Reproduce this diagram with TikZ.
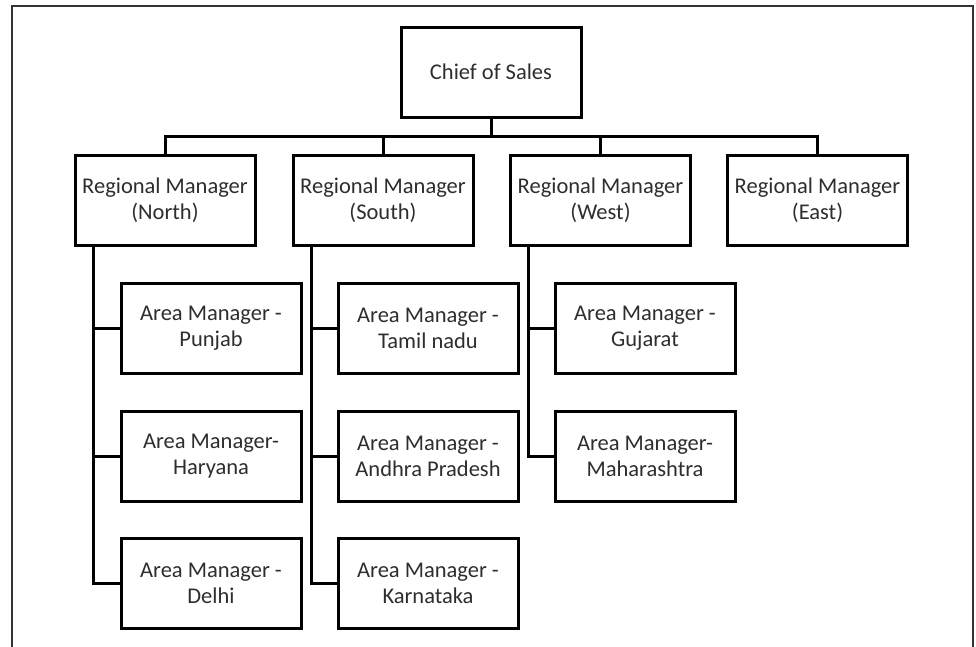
\documentclass[tikz,border=0pt]{standalone}
\usepackage{fontspec}
\setmainfont{Carlito}
\begin{document}
\begin{tikzpicture}[x=1pt,y=-1pt,
  box/.style={draw=black,line width=3pt,fill=white,minimum width=180pt,minimum height=90pt,
    inner sep=0pt,align=center,text=black!82,font=\fontsize{22.5}{26}\selectfont},
  link/.style={draw=black,line width=3pt,line join=miter}]
\useasboundingbox (0,0) rectangle (976,646);
\fill[white] (0,0) rectangle (976,646);
\draw[black!80,line width=1.5pt] (12,650) -- (12,6) -- (973,6) -- (973,650);
% nodes
\node[box] (chief) at (491,72) {Chief of Sales};
\node[box] (north) at (165,200) {Regional Manager\\(North)};
\node[box] (south) at (383,200) {Regional Manager\\(South)};
\node[box] (west) at (600.5,200) {Regional Manager\\(West)};
\node[box] (east) at (817.5,200) {Regional Manager\\(East)};
\node[box] (punjab) at (211,328) {Area Manager -\\Punjab};
\node[box] (haryana) at (211,456.5) {Area Manager-\\Haryana};
\node[box] (delhi) at (211,583.5) {Area Manager -\\Delhi};
\node[box] (tamil) at (428,328) {Area Manager -\\Tamil nadu};
\node[box] (andhra) at (428,456.5) {Area Manager -\\Andhra Pradesh};
\node[box] (karna) at (428,583.5) {Area Manager -\\Karnataka};
\node[box] (gujarat) at (645,328) {Area Manager -\\Gujarat};
\node[box] (maha) at (645,456.5) {Area Manager-\\Maharashtra};
% connectors
\coordinate (bus) at (491,136);
\draw[link] (chief.south) -- (bus);
\draw[link] (north.north) |- (bus) -| (east.north);
\draw[link] (south.north) -- (south.north |- bus);
\draw[link] (west.north) -- (west.north |- bus);
% area links
\draw[link] ([xshift=-72pt]north.south) |- (delhi.west);
\draw[link] ([xshift=-72pt]north.south |- punjab.west) -- (punjab.west);
\draw[link] ([xshift=-72pt]north.south |- haryana.west) -- (haryana.west);
\draw[link] ([xshift=-72pt]south.south) |- (karna.west);
\draw[link] ([xshift=-72pt]south.south |- tamil.west) -- (tamil.west);
\draw[link] ([xshift=-72pt]south.south |- andhra.west) -- (andhra.west);
\draw[link] ([xshift=-72pt]west.south) |- (maha.west);
\draw[link] ([xshift=-72pt]west.south |- gujarat.west) -- (gujarat.west);
\end{tikzpicture}
\end{document}
